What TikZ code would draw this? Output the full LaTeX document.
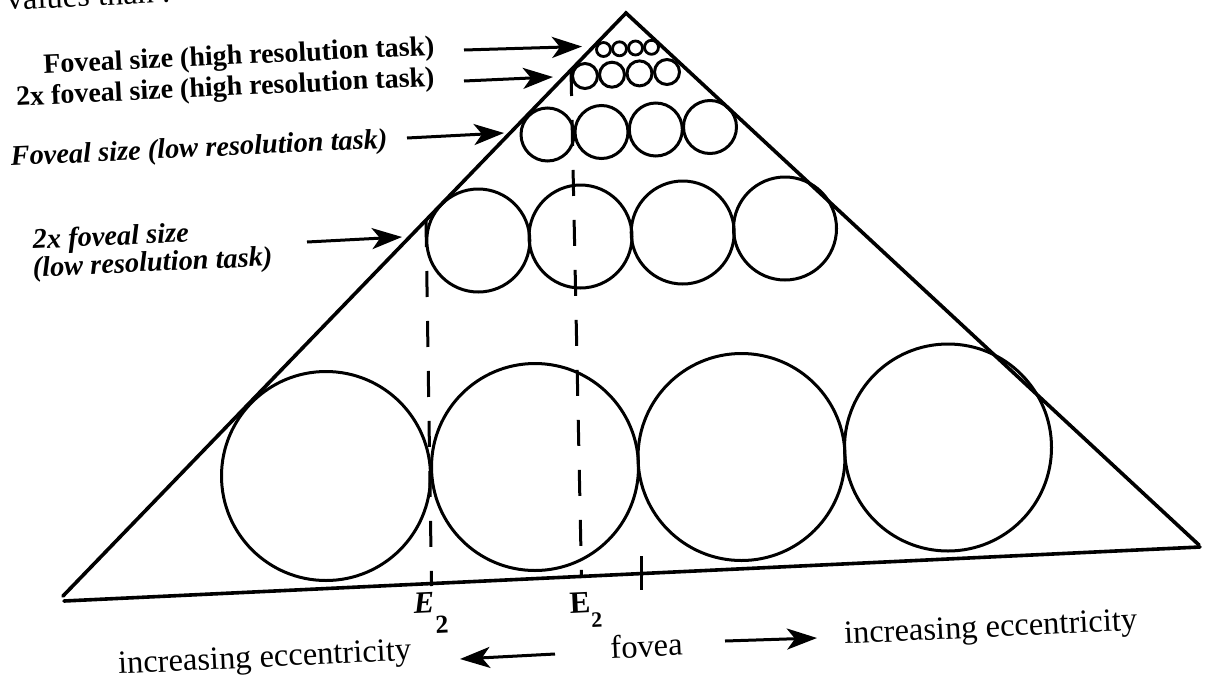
\documentclass[tikz,border=0pt]{standalone}
\usepackage{fontspec}
\setmainfont{Liberation Serif}
\usetikzlibrary{arrows.meta}
\begin{document}
\begin{tikzpicture}[x=1pt,y=-1pt,
  edge/.style={line width=3.6pt,line cap=round},
  ring/.style={line width=3pt},
  guide/.style={line width=3pt,dash pattern=on 26pt off 24pt},
  tick/.style={line width=3pt},
  pointer/.style={line width=3pt,-{Stealth[length=30pt,width=21pt,inset=8pt]}},
  lbl/.style={inner sep=0pt,rotate=2.7},
  boldlbl/.style={lbl,font=\bfseries\fontsize{28}{28}\selectfont},
  slantlbl/.style={lbl,font=\bfseries\itshape\fontsize{28.4}{28.4}\selectfont},
  plainlbl/.style={lbl,font=\fontsize{32.5}{32.5}\selectfont}]

\useasboundingbox (0,0) rectangle (1209,683);
\clip (0,0) rectangle (1209,683);
\fill[white] (0,0) rectangle (1209,683);

% running text of the page above the figure
\node[plainlbl,anchor=base west] (runin) at (7,10) {values than .};

% the triangle and its base
\coordinate (apex) at (626,13);
\coordinate (lv) at (63,596);
\coordinate (rv) at (1199,545);
\coordinate (bl) at (64,601);
\coordinate (br) at (1200,547);
\draw[edge] (lv) -- (apex) -- (rv);
\draw[edge] (bl) -- (br);

% rows of circles, doubling in size towards the base
\draw[ring] (326,476) circle[radius=104.5pt];
\foreach \cx/\cy in {535/467,741.5/457,948/447.5}
  \draw[ring] (\cx,\cy) circle[radius=103.5pt];
\foreach \cx/\cy in {478.3/240.5,580.5/236.5,682.7/232.5,785/228.5}
  \draw[ring] (\cx,\cy) circle[radius=51.5pt];
\foreach \cx/\cy in {547.5/134.5,601.5/132,655.8/129.5,710/127}
  \draw[ring] (\cx,\cy) circle[radius=26.5pt];
\foreach \cx/\cy in {585/76,612/74.7,639.5/73.4,667/72}
  \draw[ring] (\cx,\cy) circle[radius=12.5pt];
\foreach \cx/\cy in {603.5/49.5,619.5/48.8,635.5/48,651.5/47.3}
  \draw[ring,line width=2.8pt] (\cx,\cy) circle[radius=7pt];

% eccentricity guides and the fovea mark
\coordinate (gAtop) at (426,221);
\coordinate (gAbot) at (431.5,586);
\coordinate (gBtop) at (571,70);
\coordinate (gBbot) at (581.5,578);
\coordinate (fvtop) at (641,556);
\coordinate (fvbot) at (641,590);
\draw[guide] (gAtop) -- (gAbot);
\draw[guide] (gBtop) -- (gBbot);
\draw[tick] (fvtop) -- (fvbot);

% labels on the left
\node[boldlbl,anchor=base east] (hr1) at (435,55) {Foveal size (high resolution task)};
\node[boldlbl,anchor=base east] (hr2) at (435,86) {2x foveal size (high resolution task)};
\node[slantlbl,anchor=base east] (lr1) at (388,148) {Foveal size (low resolution task)};
\node[slantlbl,anchor=base west] (lr2a) at (33,249) {2x foveal size};
\node[slantlbl,anchor=base west] (lr2b) at (33,277) {(low resolution task)};

\coordinate (p1s) at (464,50);   \coordinate (p1e) at (582,46.5);
\coordinate (p2s) at (464,81);   \coordinate (p2e) at (553,77);
\coordinate (p3s) at (407,138);  \coordinate (p3e) at (504,133);
\coordinate (p4s) at (307,242);  \coordinate (p4e) at (402,237);
\draw[pointer] (p1s) -- (p1e);
\draw[pointer] (p2s) -- (p2e);
\draw[pointer] (p3s) -- (p3e);
\draw[pointer] (p4s) -- (p4e);

% labels under the base
\node[lbl,anchor=base west,font=\bfseries\itshape\fontsize{31}{31}\selectfont] (e2a) at (414,613)
  {E\raisebox{-21pt}{\upshape\fontsize{26}{26}\selectfont 2}};
\node[lbl,anchor=base west,font=\bfseries\fontsize{31}{31}\selectfont] (e2b) at (570,613)
  {E\raisebox{-15pt}{\fontsize{22}{22}\selectfont 2}};
\node[plainlbl,anchor=base] (fovea) at (647,657) {fovea};
\node[plainlbl,anchor=base] (incL) at (265,667) {increasing eccentricity};
\node[plainlbl,anchor=base] (incR) at (991,637) {increasing eccentricity};

\coordinate (qLs) at (555,654);  \coordinate (qLe) at (460,659);
\coordinate (qRs) at (725,641);  \coordinate (qRe) at (817,638);
\draw[pointer] (qLs) -- (qLe);
\draw[pointer] (qRs) -- (qRe);
\end{tikzpicture}
\end{document}
